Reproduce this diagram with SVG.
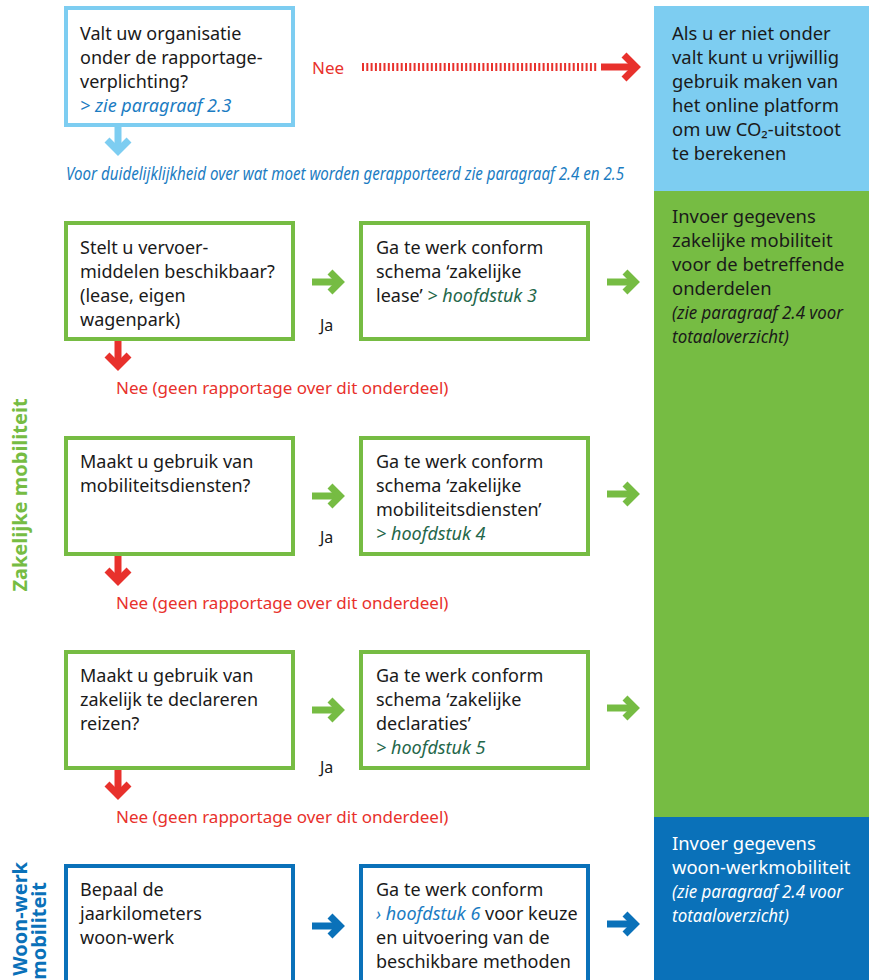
<svg xmlns="http://www.w3.org/2000/svg" width="869" height="980" viewBox="0 0 869 980">
<defs>
<style>
text{font-family:"Noto Sans","Open Sans","Liberation Sans",sans-serif;font-size:18px;fill:#1a1a1a}
.it{font-style:italic}
.lb{fill:none;stroke:#7dcdf1;stroke-width:4}
.gb{fill:#fff;stroke:#76bc43;stroke-width:4}
.bb{fill:#fff;stroke:#0a71b9;stroke-width:4}
.arr{fill:none;stroke-width:7;stroke-linejoin:miter;stroke-linecap:butt}
.ga{stroke:#76bc43}.ra{stroke:#e8312c}.ba{stroke:#0a71b9}.la{stroke:#7dcdf1}
.red{fill:#e8312c;font-size:17px}
.ja{font-size:16px}
.dg{fill:#24674a;font-style:italic}
.bl{fill:#1b7cc2;font-style:italic}
.wt{fill:#fff}
.side{font-weight:bold;font-size:20px}
.pt{font-size:18.4px}
</style>
</defs>
<rect x="0" y="0" width="869" height="980" fill="#fff"/>
<g id="panel-optional">
<rect x="654" y="6" width="215" height="185" fill="#7dcdf1"/>
<text x="672" y="40" class="pt">Als u er niet onder</text>
<text x="672" y="64" class="pt">valt kunt u vrijwillig</text>
<text x="672" y="88" class="pt">gebruik maken van</text>
<text x="672" y="112" class="pt">het online platform</text>
<text x="672" y="136" class="pt">om uw CO₂-uitstoot</text>
<text x="672" y="160" class="pt">te berekenen</text>
</g>
<g id="panel-zakelijk">
<rect x="654" y="191" width="215" height="626" fill="#76bc43"/>
<text x="672" y="223" class="pt">Invoer gegevens</text>
<text x="672" y="247" class="pt">zakelijke mobiliteit</text>
<text x="672" y="271" class="pt">voor de betreffende</text>
<text x="672" y="295" class="pt">onderdelen</text>
<text x="672" y="319" class="it" font-size="16" textLength="171" lengthAdjust="spacingAndGlyphs">(zie paragraaf 2.4 voor</text>
<text x="672" y="343" class="it" font-size="16" textLength="117" lengthAdjust="spacingAndGlyphs">totaaloverzicht)</text>
</g>
<g id="panel-woonwerk">
<rect x="654" y="817" width="215" height="163" fill="#0a71b9"/>
<text x="672" y="850" class="wt pt">Invoer gegevens</text>
<text x="672" y="874" class="wt pt">woon-werkmobiliteit</text>
<text x="672" y="898" class="wt it" font-size="16" textLength="171" lengthAdjust="spacingAndGlyphs">(zie paragraaf 2.4 voor</text>
<text x="672" y="922" class="wt it" font-size="16" textLength="117" lengthAdjust="spacingAndGlyphs">totaaloverzicht)</text>
</g>
<g id="label-zakelijk">
<text class="side" style="fill:#76bc43" text-anchor="middle" transform="translate(27,495) rotate(-90)">Zakelijke mobiliteit</text>
</g>
<g id="label-woonwerk">
<text class="side" style="fill:#0a71b9" text-anchor="end" transform="translate(27,862) rotate(-90)">Woon-werk</text>
<text class="side" style="fill:#0a71b9" text-anchor="end" transform="translate(46,882) rotate(-90)">mobiliteit</text>
</g>
<g id="q-verplichting">
<rect x="66" y="8" width="227" height="117" class="lb"/>
<text x="80" y="40">Valt uw organisatie</text>
<text x="80" y="64">onder de rapportage-</text>
<text x="80" y="88">verplichting?</text>
<text x="80" y="112" class="bl">&gt; zie paragraaf 2.3</text>
</g>
<g id="note-duidelijkheid">
<text x="66" y="180" class="bl" font-size="15" textLength="558" lengthAdjust="spacingAndGlyphs">Voor duidelijklijkheid over wat moet worden gerapporteerd zie paragraaf 2.4 en 2.5</text>
</g>
<g id="q-lease">
<rect x="66" y="223" width="227" height="116" class="gb"/>
<text x="80" y="254">Stelt u vervoer-</text>
<text x="80" y="278">middelen beschikbaar?</text>
<text x="80" y="302">(lease, eigen</text>
<text x="80" y="326">wagenpark)</text>
</g>
<g id="a-lease">
<rect x="361" y="223" width="227" height="116" class="gb"/>
<text x="376" y="254">Ga te werk conform</text>
<text x="376" y="278">schema ‘zakelijke</text>
<text x="376" y="302">lease’ <tspan class="dg">&gt; hoofdstuk 3</tspan></text>
</g>
<g id="q-diensten">
<rect x="66" y="438" width="227" height="116" class="gb"/>
<text x="80" y="468">Maakt u gebruik van</text>
<text x="80" y="492">mobiliteitsdiensten?</text>
</g>
<g id="a-diensten">
<rect x="361" y="438" width="227" height="116" class="gb"/>
<text x="376" y="468">Ga te werk conform</text>
<text x="376" y="492">schema ‘zakelijke</text>
<text x="376" y="516">mobiliteitsdiensten’</text>
<text x="376" y="540" class="dg">&gt; hoofdstuk 4</text>
</g>
<g id="q-declaraties">
<rect x="66" y="652" width="227" height="116" class="gb"/>
<text x="80" y="682">Maakt u gebruik van</text>
<text x="80" y="706">zakelijk te declareren</text>
<text x="80" y="730">reizen?</text>
</g>
<g id="a-declaraties">
<rect x="361" y="652" width="227" height="116" class="gb"/>
<text x="376" y="682">Ga te werk conform</text>
<text x="376" y="706">schema ‘zakelijke</text>
<text x="376" y="730">declaraties’</text>
<text x="376" y="754" class="dg">&gt; hoofdstuk 5</text>
</g>
<g id="q-woonwerk">
<rect x="66" y="866" width="227" height="130" class="bb"/>
<text x="80" y="896">Bepaal de</text>
<text x="80" y="920">jaarkilometers</text>
<text x="80" y="944">woon-werk</text>
</g>
<g id="a-woonwerk">
<rect x="361" y="866" width="227" height="130" class="bb"/>
<text x="376" y="896">Ga te werk conform</text>
<text x="376" y="920"><tspan class="bl">› hoofdstuk 6</tspan> voor keuze</text>
<text x="376" y="944">en uitvoering van de</text>
<text x="376" y="968">beschikbare methoden</text>
</g>
<g id="connectors">
<text x="312" y="74" class="red">Nee</text>
<line x1="362" y1="67" x2="597" y2="67" stroke="#e8312c" stroke-width="8" stroke-dasharray="2 2.3"/>
<path d="M601,67 H632" class="arr ra"/>
<path d="M624,55 L636,67 L624,79" class="arr ra"/>
<path d="M118,127 V149" class="arr la"/>
<path d="M107,140 L118,151 L129,140" class="arr la"/>
<path d="M312,282 H339" class="arr ga"/>
<path d="M330,272 L340,282 L330,292" class="arr ga"/>
<text x="320" y="331" class="ja">Ja</text>
<path d="M607,282 H634" class="arr ga"/>
<path d="M625,272 L635,282 L625,292" class="arr ga"/>
<path d="M118,341 V364" class="arr ra"/>
<path d="M107,355 L118,366 L129,355" class="arr ra"/>
<text x="116" y="394" class="red">Nee (geen rapportage over dit onderdeel)</text>
<path d="M312,496 H339" class="arr ga"/>
<path d="M330,486 L340,496 L330,506" class="arr ga"/>
<text x="320" y="543" class="ja">Ja</text>
<path d="M607,494 H634" class="arr ga"/>
<path d="M625,484 L635,494 L625,504" class="arr ga"/>
<path d="M118,556 V579" class="arr ra"/>
<path d="M107,570 L118,581 L129,570" class="arr ra"/>
<text x="116" y="609" class="red">Nee (geen rapportage over dit onderdeel)</text>
<path d="M312,710 H339" class="arr ga"/>
<path d="M330,700 L340,710 L330,720" class="arr ga"/>
<text x="320" y="773" class="ja">Ja</text>
<path d="M607,708 H634" class="arr ga"/>
<path d="M625,698 L635,708 L625,718" class="arr ga"/>
<path d="M118,770 V793" class="arr ra"/>
<path d="M107,784 L118,795 L129,784" class="arr ra"/>
<text x="116" y="823" class="red">Nee (geen rapportage over dit onderdeel)</text>
<path d="M312,926 H339" class="arr ba"/>
<path d="M330,916 L340,926 L330,936" class="arr ba"/>
<path d="M607,924 H634" class="arr ba"/>
<path d="M625,914 L635,924 L625,934" class="arr ba"/>
</g>
</svg>
